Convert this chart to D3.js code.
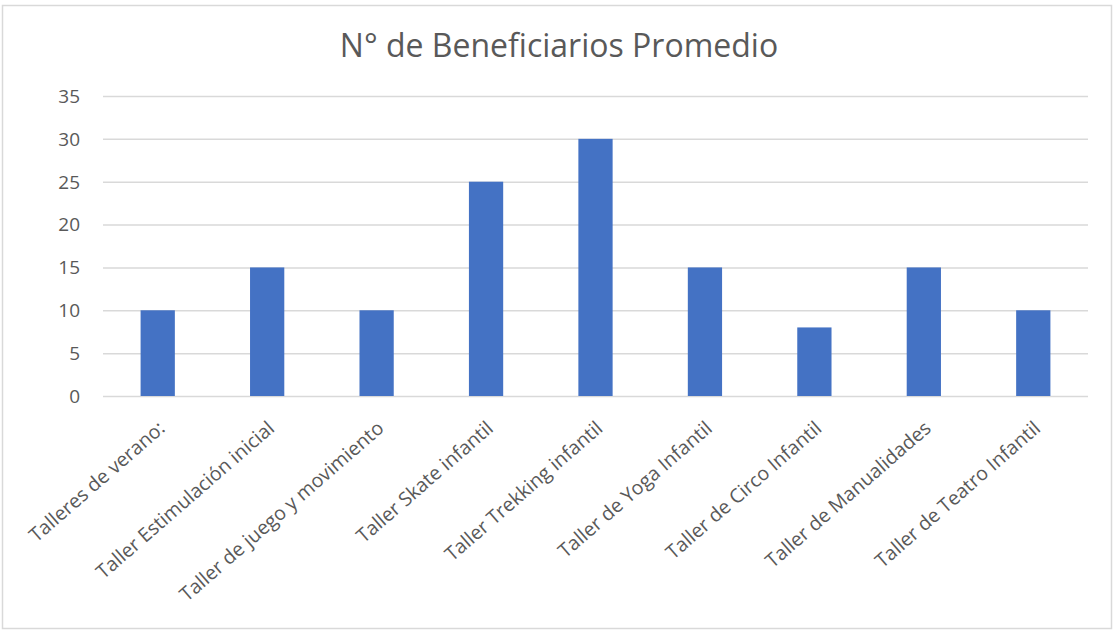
<!DOCTYPE html>
<html>
<head>
<meta charset="utf-8">
<script src="https://cdn.jsdelivr.net/npm/d3@7"></script>
<style>
  body { margin: 0; background: #fff; }
  svg text { font-family: "Open Sans", Lato, sans-serif; fill: #595959; }
</style>
</head>
<body>
<div id="chart"></div>
<script>
var categories = [
  "Talleres de verano:",
  "Taller Estimulación inicial",
  "Taller de juego y movimiento",
  "Taller Skate infantil",
  "Taller Trekking infantil",
  "Taller de Yoga Infantil",
  "Taller de Circo Infantil",
  "Taller de Manualidades",
  "Taller de Teatro Infantil"
];
var values = [10, 15, 10, 25, 30, 15, 8, 15, 10];
var yTicks = [0, 5, 10, 15, 20, 25, 30, 35];
var title = "N° de Beneficiarios Promedio";

var width = 1118, height = 631;
var margin = {top: 96, right: 30, bottom: 235, left: 103};

var svg = d3.select("#chart").append("svg")
    .attr("width", width)
    .attr("height", height);

// chart frame
svg.append("rect")
    .attr("x", 2.5)
    .attr("y", 5.5)
    .attr("width", 1109)
    .attr("height", 623)
    .attr("fill", "#fff")
    .attr("stroke", "#d9d9d9")
    .attr("stroke-width", 1.5);

var x = d3.scaleBand()
    .domain(categories)
    .range([margin.left, width - margin.right])
    .paddingInner(0.687)
    .paddingOuter(0.3435);

var y = d3.scaleLinear()
    .domain([0, 35])
    .range([height - margin.bottom, margin.top]);

svg.append("text")
    .attr("x", 559)
    .attr("y", 57)
    .attr("text-anchor", "middle")
    .style("font-size", "32px")
    .text(title);

// gridlines
svg.selectAll(".grid")
    .data(yTicks)
  .enter().append("line")
    .attr("class", "grid")
    .attr("x1", margin.left)
    .attr("x2", width - margin.right)
    .attr("y1", function(d) { return y(d) + 0.5; })
    .attr("y2", function(d) { return y(d) + 0.5; })
    .attr("stroke", "#d9d9d9")
    .attr("stroke-width", 1.5);

svg.selectAll(".ytick")
    .data(yTicks)
  .enter().append("text")
    .attr("class", "ytick")
    .attr("x", 80)
    .attr("y", function(d) { return y(d); })
    .attr("dy", "0.36em")
    .attr("text-anchor", "end")
    .style("font-size", "19px")
    .text(function(d) { return d; });

svg.selectAll(".bar")
    .data(values)
  .enter().append("rect")
    .attr("class", "bar")
    .attr("x", function(d, i) { return x(categories[i]); })
    .attr("width", x.bandwidth())
    .attr("y", function(d) { return y(d); })
    .attr("height", function(d) { return y(0) - y(d); })
    .attr("fill", "#4472c4");

svg.selectAll(".xlabel")
    .data(categories)
  .enter().append("text")
    .attr("class", "xlabel")
    .attr("text-anchor", "end")
    .attr("transform", function(d) {
      return "translate(" + (x(d) + x.bandwidth() / 2 + 4) + "," + 425 + ") rotate(-41)";
    })
    .attr("dy", "0.35em")
    .style("font-size", "19.5px")
    .text(function(d) { return d; });
</script>
</body>
</html>
